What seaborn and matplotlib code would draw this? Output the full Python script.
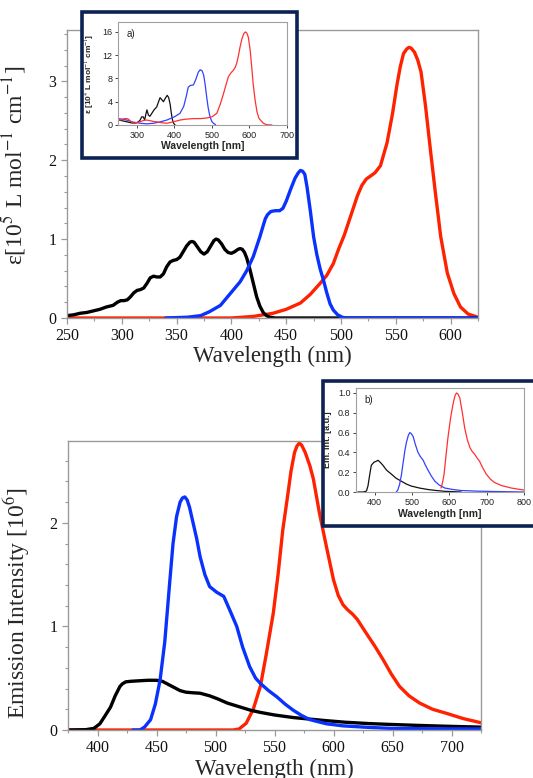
import numpy as np
import pandas as pd
import matplotlib
matplotlib.use("Agg")
import matplotlib.pyplot as plt
import seaborn as sns
from matplotlib.patches import Rectangle
from matplotlib.ticker import MultipleLocator

# ---------------- data: main absorption (10^5 L mol-1 cm-1) ----------------
abs_black_x = [250, 256, 262, 268, 274, 280, 286, 292, 296, 299, 302, 305, 308, 311, 314, 317, 320,
               323, 326, 329, 332, 335, 338, 341, 344, 347, 350, 353, 356, 359, 362, 364, 366,
               369, 372, 375, 378, 381, 384, 386, 388, 391, 394, 397, 400, 403, 406, 408, 410,
               412, 414, 417, 420, 423, 426, 429, 432, 435, 440, 450, 625]
abs_black_y = [0.03, 0.04, 0.06, 0.07, 0.09, 0.11, 0.14, 0.16, 0.2, 0.22, 0.22, 0.23, 0.27, 0.32,
               0.35, 0.36, 0.38, 0.44, 0.51, 0.53, 0.52, 0.52, 0.56, 0.65, 0.71, 0.73, 0.74, 0.77,
               0.84, 0.91, 0.96, 0.97, 0.96, 0.9, 0.84, 0.81, 0.84, 0.91, 0.98, 1.0, 0.99, 0.94,
               0.87, 0.83, 0.82, 0.84, 0.87, 0.88, 0.87, 0.83, 0.76, 0.61, 0.44, 0.27, 0.15, 0.07,
               0.03, 0.01, 0.0, 0.0, 0.0]
abs_blue_x = [340, 350, 360, 372, 380, 390, 399, 408, 414, 420, 426, 429, 431, 433, 436, 440, 444,
              447, 450, 454, 458, 461, 463, 465, 467, 469, 472, 475, 478, 481, 484, 487, 490, 493,
              497, 501, 505, 625]
abs_blue_y = [0.0, 0.005, 0.01, 0.03, 0.08, 0.16, 0.31, 0.46, 0.6, 0.78, 1.03, 1.17, 1.26, 1.31,
              1.35, 1.36, 1.36, 1.39, 1.48, 1.63, 1.77, 1.84, 1.87, 1.86, 1.82, 1.66, 1.36, 1.03,
              0.8, 0.62, 0.48, 0.32, 0.18, 0.1, 0.04, 0.01, 0.0, 0.0]
abs_red_x = [250, 400, 420, 438, 450, 463, 472, 481, 487, 493, 498, 503, 509, 515, 519, 523, 527,
             531, 536, 542, 547, 551, 554, 557, 560, 562, 564, 567, 570, 573, 577, 582, 586, 591,
             597, 603, 609, 616, 625]
abs_red_y = [0.0, 0.0, 0.02, 0.06, 0.11, 0.19, 0.3, 0.44, 0.54, 0.69, 0.88, 1.05, 1.3, 1.55,
             1.68, 1.76, 1.8, 1.84, 1.93, 2.22, 2.59, 2.95, 3.18, 3.35, 3.41, 3.43, 3.42, 3.37,
             3.27, 3.12, 2.7, 2.08, 1.6, 1.03, 0.57, 0.31, 0.14, 0.05, 0.01]

# ---------------- data: main emission (10^6) ----------------
em_black_x = [375, 390, 397, 402, 406, 411, 415, 419, 421, 424, 428, 435, 443, 450, 455, 460, 465,
              470, 475, 480, 487, 495, 502, 510, 520, 530, 538, 550, 566, 580, 594, 610, 630, 650,
              670, 690, 710, 725]
em_black_y = [0.0, 0.003, 0.016, 0.06, 0.13, 0.22, 0.33, 0.42, 0.445, 0.465, 0.47, 0.475, 0.48,
              0.48, 0.47, 0.44, 0.41, 0.38, 0.365, 0.36, 0.355, 0.33, 0.3, 0.26, 0.225, 0.19,
              0.17, 0.145, 0.12, 0.105, 0.09, 0.075, 0.062, 0.053, 0.045, 0.038, 0.032, 0.028]
em_blue_x = [430, 436, 440, 445, 449, 453, 457, 461, 464, 467, 470, 472, 474, 476, 478, 481, 484,
             487, 491, 495, 501, 507, 512, 518, 523, 529, 534, 538, 545, 552, 559, 566, 573, 580,
             594, 608, 630, 650, 680, 725]
em_blue_y = [0.0, 0.0, 0.03, 0.1, 0.25, 0.48, 0.85, 1.4, 1.8, 2.06, 2.2, 2.24, 2.25, 2.22, 2.15,
             2.0, 1.85, 1.67, 1.5, 1.385, 1.33, 1.29, 1.16, 1.0, 0.8, 0.61, 0.5, 0.45, 0.38,
             0.32, 0.25, 0.19, 0.14, 0.1, 0.06, 0.04, 0.025, 0.015, 0.012, 0.01]
em_red_x = [375, 515, 520, 526, 532, 538, 543, 549, 553, 557, 561, 564, 567, 569, 571, 573, 576,
            580, 583, 588, 594, 600, 604, 608, 612, 616, 620, 624, 628, 635, 642, 649, 656, 664,
            673, 684, 696, 710, 725]
em_red_y = [0.0, 0.0, 0.01, 0.065, 0.2, 0.42, 0.73, 1.13, 1.5, 1.93, 2.25, 2.5, 2.68, 2.74, 2.77,
            2.75, 2.68, 2.55, 2.42, 2.1, 1.77, 1.45, 1.3, 1.21, 1.16, 1.12, 1.07, 1.0, 0.93,
            0.81, 0.68, 0.54, 0.42, 0.33, 0.26, 0.2, 0.16, 0.11, 0.07]

# ---------------- data: inset a) absorption (10^4) ----------------
ia_black_x = [250, 260, 270, 280, 291, 300, 305, 309, 313, 317, 321, 324, 327, 331, 335, 340, 346,
              353, 358, 362, 366, 371, 376, 381, 385, 389, 392, 395, 398, 402]
ia_black_y = [0.9, 0.75, 0.6, 0.45, 0.3, 0.4, 0.6, 0.85, 1.4, 1.4, 0.9, 1.8, 2.6, 1.7, 1.5, 2.0,
              2.6, 3.1, 4.0, 4.7, 4.4, 4.0, 4.6, 5.1, 4.7, 3.5, 2.0, 0.9, 0.3, 0.0]
ia_blue_x = [250, 262, 273, 290, 310, 326, 345, 360, 380, 400, 415, 425, 432, 437, 443, 451, 457,
             464, 469, 474, 478, 482, 486, 490, 495, 500, 504, 510]
ia_blue_y = [1.1, 1.0, 0.85, 0.5, 0.3, 0.2, 0.3, 0.5, 0.85, 1.4, 2.0, 3.2, 5.0, 6.5, 6.8, 6.9,
             7.8, 9.1, 9.5, 9.3, 8.6, 7.0, 4.9, 3.0, 1.4, 0.6, 0.3, 0.05]
ia_red_x = [250, 260, 268, 273, 278, 284, 291, 300, 310, 320, 326, 335, 345, 353, 365, 380, 395,
            415, 430, 451, 470, 486, 500, 513, 522, 531, 538, 544, 550, 557, 562, 566, 571, 575,
            580, 585, 589, 593, 597, 602, 606, 610, 615, 620, 625, 629, 637, 646, 660]
ia_red_y = [0.8, 0.9, 1.1, 1.1, 1.0, 0.6, 0.3, 0.4, 0.6, 0.8, 0.85, 0.75, 0.6, 0.55, 0.4, 0.3,
            0.5, 0.85, 1.0, 1.1, 1.1, 1.2, 1.4, 2.0, 3.5, 5.4, 7.0, 8.3, 8.9, 9.4, 9.9, 10.6,
            12.0, 13.4, 14.8, 15.7, 16.0, 15.8, 15.1, 12.8, 10.0, 7.0, 4.3, 2.3, 1.2, 0.86, 0.3,
            0.05, 0.0]

# ---------------- data: inset b) emission (a.u.) ----------------
ib_black_x = [355, 370, 378, 382, 387, 391, 398, 404, 409, 415, 422, 432, 445, 457, 471, 485, 498,
              520, 543, 565, 588, 632]
ib_black_y = [0.0, 0.0, 0.01, 0.06, 0.18, 0.27, 0.3, 0.31, 0.32, 0.3, 0.27, 0.22, 0.18, 0.14,
              0.11, 0.08, 0.06, 0.04, 0.025, 0.015, 0.007, 0.0]
ib_blue_x = [458, 462, 467, 472, 476, 481, 485, 490, 494, 498, 503, 509, 516, 522, 530, 536, 543,
             552, 561, 573, 588, 610, 632, 680, 721, 800]
ib_blue_y = [0.0, 0.02, 0.08, 0.18, 0.29, 0.42, 0.5, 0.57, 0.6, 0.59, 0.56, 0.48, 0.4, 0.36,
             0.32, 0.27, 0.22, 0.16, 0.11, 0.07, 0.04, 0.025, 0.015, 0.008, 0.005, 0.0]
ib_red_x = [578, 582, 586, 590, 596, 603, 610, 615, 619, 623, 628, 634, 641, 648, 655, 661, 668,
            675, 681, 690, 699, 710, 721, 740, 766, 785, 800]
ib_red_y = [0.04, 0.1, 0.18, 0.33, 0.54, 0.74, 0.89, 0.97, 1.0, 0.99, 0.95, 0.82, 0.65, 0.53,
            0.45, 0.41, 0.38, 0.34, 0.31, 0.24, 0.18, 0.13, 0.096, 0.065, 0.04, 0.028, 0.02]

# ---------------- styling ----------------
sns.set_theme(style="white")
plt.rcParams['font.family'] = ['Liberation Serif', 'DejaVu Serif']
plt.rcParams['mathtext.fontset'] = 'stix'

C_BLACK = '#000000'
C_BLUE = '#0a32ff'
C_RED = '#ff2200'
SPINE = '#9a9a9a'
FRAME = '#0c2254'
W, H = 533, 778

fig = plt.figure(figsize=(W / 100, H / 100), dpi=100)
fig.patch.set_facecolor('white')


def fax(l, r, t, b):
    return [l / W, 1 - b / H, (r - l) / W, (b - t) / H]


def draw(ax, xs, ys, color, lw):
    df = pd.DataFrame({'x': xs, 'y': ys})
    sns.lineplot(data=df, x='x', y='y', ax=ax, color=color, linewidth=lw,
                 estimator=None, sort=False, legend=False)
    ax.lines[-1].set_solid_joinstyle('round')


def style_main(ax):
    for s in ax.spines.values():
        s.set_color(SPINE)
        s.set_linewidth(1.0)
    ax.tick_params(which='major', direction='out', length=4.5, width=0.9, color=SPINE,
                   labelsize=11.5, pad=3, labelcolor='#111111',
                   bottom=True, left=True, top=False, right=False)
    ax.tick_params(which='minor', direction='out', length=2.5, width=0.8, color=SPINE,
                   bottom=True, left=True, top=False, right=False)
    for lab in ax.get_xticklabels() + ax.get_yticklabels():
        lab.set_family(['Liberation Serif'])


# ---------------- top main: absorption ----------------
ax1 = fig.add_axes(fax(67, 478, 30, 318))
ax1.set_zorder(1)
draw(ax1, abs_red_x, abs_red_y, C_RED, 2.4)
draw(ax1, abs_black_x, abs_black_y, C_BLACK, 2.4)
draw(ax1, abs_blue_x, abs_blue_y, C_BLUE, 2.4)
ax1.set_xlim(250, 625)
ax1.set_ylim(0, 3.65)
ax1.xaxis.set_major_locator(MultipleLocator(50))
ax1.xaxis.set_minor_locator(MultipleLocator(25))
ax1.yaxis.set_major_locator(MultipleLocator(1))
ax1.yaxis.set_minor_locator(MultipleLocator(0.2))
ax1.set_xticks([250, 300, 350, 400, 450, 500, 550, 600])
ax1.set_xlabel('Wavelength (nm)', fontsize=16.5, family=['Liberation Serif'])
ax1.set_ylabel(r'ε[10$^{5}$ L mol$^{-1}$ cm$^{-1}$]', fontsize=17, family=['Liberation Serif'])
ax1.xaxis.set_label_coords(0.5, -0.095)
ax1.yaxis.set_label_coords(-0.095, 0.53)
style_main(ax1)

# ---------------- bottom main: emission ----------------
ax2 = fig.add_axes(fax(68, 481, 441, 730))
ax2.set_zorder(1)
draw(ax2, em_red_x, em_red_y, C_RED, 2.4)
draw(ax2, em_black_x, em_black_y, C_BLACK, 2.4)
draw(ax2, em_blue_x, em_blue_y, C_BLUE, 2.4)
ax2.set_xlim(375, 725)
ax2.set_ylim(0, 2.79)
ax2.xaxis.set_major_locator(MultipleLocator(50))
ax2.xaxis.set_minor_locator(MultipleLocator(25))
ax2.yaxis.set_major_locator(MultipleLocator(1))
ax2.yaxis.set_minor_locator(MultipleLocator(0.2))
ax2.set_xticks([400, 450, 500, 550, 600, 650, 700])
ax2.set_xlabel('Wavelength (nm)', fontsize=16.5, family=['Liberation Serif'])
ax2.set_ylabel(r'Emission Intensity [10$^{6}$]', fontsize=17, family=['Liberation Serif'])
ax2.xaxis.set_label_coords(0.5, -0.098)
ax2.yaxis.set_label_coords(-0.087, 0.44)
style_main(ax2)

# ---------------- inset frames ----------------
fr1 = Rectangle((82 / W, 1 - 158 / H), (297 - 82) / W, (158 - 12) / H, transform=fig.transFigure,
                facecolor='white', edgecolor=FRAME, linewidth=2.6, zorder=5)
fig.add_artist(fr1)
fr2 = Rectangle((323 / W, 1 - 526 / H), (560 - 323) / W, (526 - 381) / H, transform=fig.transFigure,
                facecolor='white', edgecolor=FRAME, linewidth=2.6, zorder=5)
fig.add_artist(fr2)


def style_inset(ax):
    for s in ax.spines.values():
        s.set_color('#a0a0a0')
        s.set_linewidth(0.8)
    ax.tick_params(which='major', direction='out', length=2.5, width=0.7, color='#444444',
                   labelsize=6.5, pad=1.5, labelcolor='#222222',
                   bottom=True, left=True, top=False, right=False)
    for lab in ax.get_xticklabels() + ax.get_yticklabels():
        lab.set_family(['Liberation Sans'])


# ---------------- inset a) ----------------
ia = fig.add_axes(fax(118, 287, 22, 125))
ia.set_zorder(6)
ia.set_facecolor('white')
draw(ia, ia_black_x, ia_black_y, '#111111', 0.9)
draw(ia, ia_blue_x, ia_blue_y, '#3340ff', 0.9)
draw(ia, ia_red_x, ia_red_y, '#ff3030', 0.9)
ia.set_xlim(250, 700)
ia.set_ylim(0, 17.7)
ia.set_xticks([300, 400, 500, 600, 700])
ia.set_yticks([0, 4, 8, 12, 16])
ia.set_xlabel('Wavelength [nm]', fontsize=7.5, fontweight='bold', family=['Liberation Sans'])
ia.set_ylabel(r'ε [10$^{4}$ L mol$^{-1}$ cm$^{-1}$]', fontsize=6, fontweight='bold',
              family=['Liberation Sans', 'DejaVu Sans'])
ia.xaxis.set_label_coords(0.5, -0.16)
ia.yaxis.set_label_coords(-0.125, 0.5)
ia.text(0.05, 0.93, 'a)', transform=ia.transAxes, fontsize=7, va='top', ha='left',
        family=['Liberation Sans'], color='#222222')
style_inset(ia)

# ---------------- inset b) ----------------
ib = fig.add_axes(fax(356, 524, 388, 492))
ib.set_zorder(6)
ib.set_facecolor('white')
draw(ib, ib_black_x, ib_black_y, '#111111', 0.9)
draw(ib, ib_blue_x, ib_blue_y, '#3340ff', 0.9)
draw(ib, ib_red_x, ib_red_y, '#ff3030', 0.9)
ib.set_xlim(350, 800)
ib.set_ylim(0, 1.05)
ib.set_xticks([400, 500, 600, 700, 800])
ib.set_yticks([0.0, 0.2, 0.4, 0.6, 0.8, 1.0])
ib.set_yticklabels(['0.0', '0.2', '0.4', '0.6', '0.8', '1.0'])
ib.set_xlabel('Wavelength [nm]', fontsize=7.5, fontweight='bold', family=['Liberation Sans'])
ib.set_ylabel('Em. Int. [a.u.]', fontsize=6.5, fontweight='bold', family=['Liberation Sans'])
ib.xaxis.set_label_coords(0.5, -0.16)
ib.yaxis.set_label_coords(-0.14, 0.5)
ib.text(0.05, 0.93, 'b)', transform=ib.transAxes, fontsize=7, va='top', ha='left',
        family=['Liberation Sans'], color='#222222')
style_inset(ib)

fig.savefig('out.png', dpi=100, facecolor='white')
